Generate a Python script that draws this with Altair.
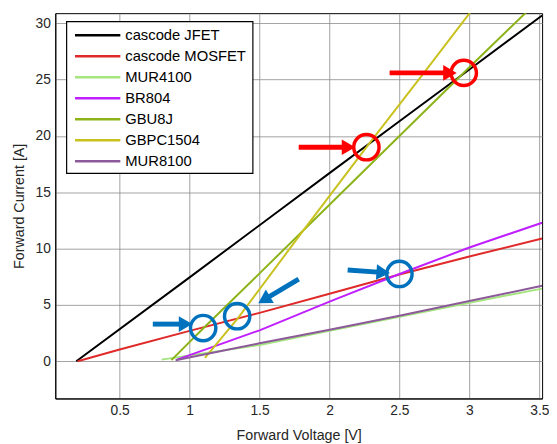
import altair as alt
import pandas as pd

# ---- series data (Forward Voltage [V], Forward Current [A]) ----
series_names = ["cascode JFET", "cascode MOSFET", "MUR4100", "BR804", "GBU8J", "GBPC1504", "MUR8100"]
series_colors = ["#000000", "#E02A2A", "#A4E57F", "#C01FFF", "#8CB317", "#C9C11E", "#8C5A9B"]

jfet_v = [0.19, 1.0, 2.0, 2.5, 3.0, 3.52]
jfet_i = [0.0, 7.45, 16.7, 21.3, 25.9, 30.7]

mosfet_v = [0.2, 0.5, 1.0, 1.5, 2.0, 2.5, 3.0, 3.52]
mosfet_i = [0.0, 1.05, 2.7, 4.3, 6.0, 7.7, 9.3, 10.9]

mur4100_v = [0.8, 1.5, 2.0, 2.5, 3.0, 3.52]
mur4100_i = [0.15, 1.45, 2.7, 3.95, 5.2, 6.45]

br804_v = [0.91, 1.5, 2.0, 2.5, 3.0, 3.52]
br804_i = [0.15, 2.75, 5.3, 7.75, 10.1, 12.3]

gbu8j_v = [0.87, 1.1, 1.5, 2.0, 2.5, 3.0, 3.45]
gbu8j_i = [0.1, 2.95, 7.8, 13.9, 20.0, 26.1, 31.5]

gbpc1504_v = [1.11, 1.35, 1.8, 2.27, 2.7, 3.02]
gbpc1504_i = [0.3, 3.9, 11.4, 19.1, 26.0, 31.2]

mur8100_v = [0.9, 1.5, 2.0, 2.5, 3.0, 3.52]
mur8100_i = [0.1, 1.6, 2.8, 4.05, 5.35, 6.7]

x_ticks = [0.5, 1, 1.5, 2, 2.5, 3, 3.5]
y_ticks = [0, 5, 10, 15, 20, 25, 30]
x_domain = [0.04, 3.52]
y_domain = [-3.3, 30.9]

# ---- annotations (data coordinates) ----
circle_v = [2.264, 2.96, 1.097, 1.34, 2.5]
circle_i = [19.0, 25.6, 2.95, 4.0, 7.75]
circle_col = ["red", "red", "blue", "blue", "blue"]

arrow_tail_v = [1.78, 2.43, 0.737, 1.78, 2.13]
arrow_tail_i = [19.0, 25.6, 3.3, 7.3, 8.1]
arrow_head_v = [2.12, 2.845, 0.955, 1.546, 2.368]
arrow_head_i = [19.0, 25.6, 3.3, 5.57, 7.89]
arrow_angle = [90, 90, 90, 239, 94]
arrow_col = ["red", "red", "blue", "blue", "blue"]

ann_colors = {"red": "#FF0000", "blue": "#0072BD"}

# ---- build tables ----
all_v = [jfet_v, mosfet_v, mur4100_v, br804_v, gbu8j_v, gbpc1504_v, mur8100_v]
all_i = [jfet_i, mosfet_i, mur4100_i, br804_i, gbu8j_i, gbpc1504_i, mur8100_i]
rows = []
for k, (name, vs, cs) in enumerate(zip(series_names, all_v, all_i)):
    for j, (v, c) in enumerate(zip(vs, cs)):
        rows.append({"device": name, "order": k, "idx": j, "V": v, "I": c})
df = pd.DataFrame(rows)

circles = pd.DataFrame({"V": circle_v, "I": circle_i, "c": [ann_colors[c] for c in circle_col]})
arrows = pd.DataFrame({
    "V": arrow_tail_v, "I": arrow_tail_i,
    "V2": arrow_head_v, "I2": arrow_head_i,
    "angle": arrow_angle,
    "c": [ann_colors[c] for c in arrow_col],
})

# legend table (layout in plot-area pixels)
legend_rows = pd.DataFrame({
    "name": series_names,
    "col": series_colors,
    "ly": [22.5 + 21.3 * k for k in range(len(series_names))],
})
legend_box = pd.DataFrame({"a": [0]})

xs = alt.Scale(domain=x_domain, nice=False, zero=False)
ys = alt.Scale(domain=y_domain, nice=False, zero=False)

x_enc = alt.X("V:Q", scale=xs, axis=alt.Axis(values=x_ticks, title="Forward Voltage [V]", format="~g"))
y_enc = alt.Y("I:Q", scale=ys, axis=alt.Axis(values=y_ticks, title="Forward Current [A]"))

lines = alt.Chart(df).mark_line(strokeWidth=2, clip=True).encode(
    x=x_enc,
    y=y_enc,
    color=alt.Color("device:N",
                    scale=alt.Scale(domain=series_names, range=series_colors),
                    sort=series_names,
                    legend=None),
    order=alt.Order("idx:Q"),
    detail="order:N",
)

circ = alt.Chart(circles).mark_point(shape="circle", filled=False, size=660, strokeWidth=3.5, opacity=1).encode(
    x=alt.X("V:Q", scale=xs), y=alt.Y("I:Q", scale=ys), color=alt.Color("c:N", scale=None)
)

shafts = alt.Chart(arrows).mark_rule(strokeWidth=5).encode(
    x=alt.X("V:Q", scale=xs), y=alt.Y("I:Q", scale=ys),
    x2="V2:Q", y2="I2:Q", color=alt.Color("c:N", scale=None)
)

heads = alt.Chart(arrows).mark_point(shape="triangle", filled=True, size=250, opacity=1).encode(
    x=alt.X("V2:Q", scale=xs), y=alt.Y("I2:Q", scale=ys),
    angle=alt.Angle("angle:Q", scale=None),
    color=alt.Color("c:N", scale=None)
)

lbox = alt.Chart(legend_box).mark_rect(fill="white", stroke="black", strokeWidth=1.2).encode(
    x=alt.value(11.5), x2=alt.value(200.5), y=alt.value(8.5), y2=alt.value(162.5)
)

lsym = alt.Chart(legend_rows).mark_rule(strokeWidth=2.5).encode(
    x=alt.value(20), x2=alt.value(66),
    y=alt.Y("ly:Q", scale=None),
    color=alt.Color("col:N", scale=None),
)

ltext = alt.Chart(legend_rows).mark_text(
    align="left", baseline="middle", font="Liberation Sans", fontSize=15, color="#000000"
).encode(
    x=alt.value(71),
    y=alt.Y("ly:Q", scale=None),
    text="name:N",
)

chart = alt.layer(lines, shafts, heads, circ, lbox, lsym, ltext).resolve_scale(color="independent").properties(
    width=494, height=391,
    autosize=alt.AutoSizeParams(type="none"),
    padding={"left": 48, "top": 2, "right": 7, "bottom": 46},
    background="white",
).configure_view(
    stroke="#000000", strokeWidth=1
).configure_axis(
    labelFont="Liberation Sans", titleFont="Liberation Sans",
    labelFontSize=14, titleFontSize=14.5, titleFontWeight="normal",
    labelColor="#262626", titleColor="#262626",
    domainColor="#000000", domainWidth=1,
    grid=True, gridColor="#8a8a8a", gridWidth=1, gridOpacity=0.8,
    ticks=False, labelPadding=5,
).configure_axisX(
    titlePadding=12,
).configure_axisY(
    titlePadding=9,
)

chart.save("out.html", embed_options={"renderer": "svg", "actions": False})
